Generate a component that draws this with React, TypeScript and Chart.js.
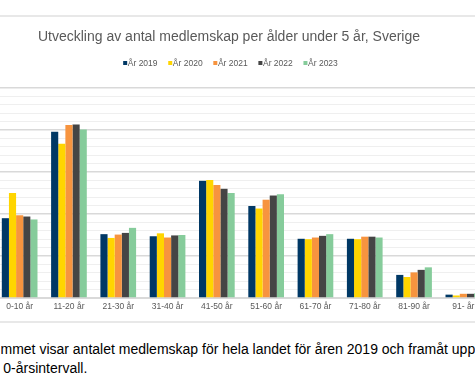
import React, { useEffect, useRef } from "react";
import { Chart, registerables } from "chart.js";

Chart.register(...registerables);

const FONT = "'Liberation Sans', Arial, Helvetica, sans-serif";

const categories = [
  "0-10 år",
  "11-20 år",
  "21-30 år",
  "31-40 år",
  "41-50 år",
  "51-60 år",
  "61-70 år",
  "71-80 år",
  "81-90 år",
  "91- år",
];

const seriesLabels = ["År 2019", "År 2020", "År 2021", "År 2022", "År 2023"];
const seriesColors = ["#003865", "#FFD500", "#F7943F", "#454545", "#86CC9B"];

// values in thousands (tusental medlemskap)
const values2019 = [19.0, 39.6, 15.2, 14.7, 27.9, 21.9, 14.1, 14.1, 5.5, 0.8];
const values2020 = [25.0, 36.7, 14.3, 15.4, 28.1, 21.3, 14.0, 14.0, 5.0, 0.6];
const values2021 = [19.7, 41.2, 15.1, 14.4, 26.9, 23.4, 14.4, 14.6, 6.1, 1.0];
const values2022 = [19.4, 41.3, 15.5, 14.9, 26.0, 24.4, 14.8, 14.6, 6.7, 1.0];
const values2023 = [18.7, 40.1, 16.7, 15.0, 25.0, 24.7, 15.2, 14.4, 7.3, 1.1];

const yMin = 0;
const yMax = 50;
const yMinorStep = 2;
const yMajorStep = 10;

const titleText = "Utveckling av antal medlemskap per ålder under 5 år, Sverige";

const legendPlugin = {
  id: "compactLegend",
  afterDraw(chart: any) {
    const ctx = chart.ctx as CanvasRenderingContext2D;
    ctx.save();
    ctx.font = `8.5px ${FONT}`;
    ctx.textBaseline = "middle";
    const box = 4;
    const gap = 0.6;
    const itemGap = 10.7;
    const items = chart.data.datasets.map((ds: any) => ({
      label: ds.label as string,
      color: ds.backgroundColor as string,
      w: box + gap + ctx.measureText(ds.label).width,
    }));
    const total =
      items.reduce((s: number, it: any) => s + it.w, 0) + itemGap * (items.length - 1);
    const cx = 260.5;
    const y = 46;
    let x = cx - total / 2;
    items.forEach((it: any) => {
      ctx.fillStyle = it.color;
      ctx.fillRect(x, y - box / 2, box, box);
      ctx.fillStyle = "#595959";
      ctx.fillText(it.label, x + box + gap, y + 0.5);
      x += it.w + itemGap;
    });
    ctx.restore();
  },
};

function BarChart() {
  const ref = useRef<HTMLCanvasElement | null>(null);
  useEffect(() => {
    if (!ref.current) return;
    const seriesValues = [values2019, values2020, values2021, values2022, values2023];
    const chart = new Chart(ref.current, {
      type: "bar",
      data: {
        labels: categories,
        datasets: seriesLabels.map((label, i) => ({
          label,
          data: seriesValues[i],
          backgroundColor: seriesColors[i],
          borderWidth: 0,
          barPercentage: 1,
          categoryPercentage: 0.724,
        })),
      },
      options: {
        responsive: false,
        animation: false,
        layout: { padding: { left: 0, right: 12, top: 0, bottom: 0 } },
        plugins: {
          legend: { display: false },
          tooltip: { enabled: false },
          title: {
            display: true,
            text: titleText,
            color: "#595959",
            font: { family: FONT, size: 14, weight: "normal" as any },
            padding: { top: 11.6, bottom: 42.6 },
          },
        },
        scales: {
          x: {
            grid: { display: false, drawTicks: false },
            border: { color: "#d9d9d9", width: 1 },
            ticks: {
              color: "#595959",
              font: { family: FONT, size: 8.5 },
              padding: 4,
              maxRotation: 0,
              autoSkip: false,
            },
            afterFit: (s: any) => {
              s.height = 23;
            },
          },
          y: {
            min: yMin,
            max: yMax,
            ticks: { display: false, stepSize: yMinorStep },
            grid: {
              drawTicks: false,
              color: (c: any) =>
                c.tick && c.tick.value % yMajorStep === 0 ? "#d9d9d9" : "#efefef",
              lineWidth: (c: any) =>
                c.tick && c.tick.value % yMajorStep === 0 ? 1.5 : 1,
            },
            border: { display: false },
            afterFit: (s: any) => {
              s.width = 25;
            },
          },
        },
      },
      plugins: [legendPlugin],
    });
    return () => chart.destroy();
  }, []);
  return <canvas ref={ref} width={530} height={304} style={{ display: "block" }} />;
}

function ClippedLine({
  left,
  top,
  prefix,
  text,
}: {
  left: number;
  top: number;
  prefix: string;
  text: string;
}) {
  return (
    <div
      style={{
        position: "absolute",
        left,
        top,
        width: 480,
        overflow: "hidden",
        whiteSpace: "nowrap",
        font: `14px ${FONT}`,
        lineHeight: "19px",
        color: "#000",
      }}
    >
      <div style={{ position: "relative" }}>
        <span style={{ position: "absolute", right: "100%", top: 0 }}>{prefix}</span>
        {text}
      </div>
    </div>
  );
}

export default function App() {
  return (
    <div
      style={{
        position: "fixed",
        left: 0,
        top: 0,
        width: 475,
        height: 390,
        overflow: "hidden",
        background: "#fff",
      }}
    >
      <div
        style={{
          position: "absolute",
          left: -30,
          top: 15,
          width: 530,
          borderTop: "2px solid #e8e8e8",
          borderBottom: "2px solid #e8e8e8",
        }}
      >
        <BarChart />
      </div>
      <ClippedLine
        left={0.5}
        top={340}
        prefix="Diagra"
        text="mmet visar antalet medlemskap för hela landet för åren 2019 och framåt uppdelat"
      />
      <ClippedLine left={3.3} top={359} prefix="per 1" text="0-årsintervall." />
    </div>
  );
}
